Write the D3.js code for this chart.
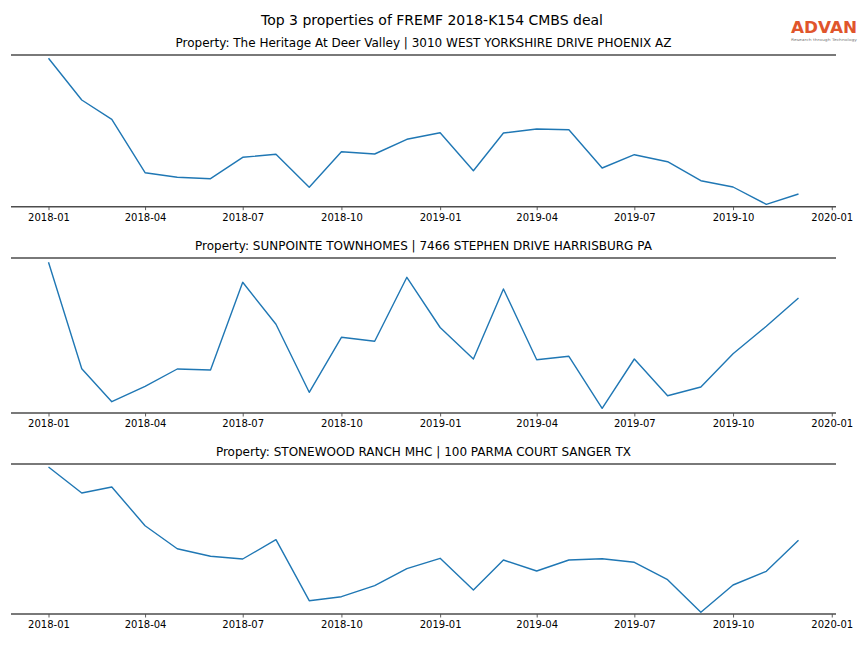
<!DOCTYPE html>
<html>
<head>
<meta charset="utf-8">
<script src="https://cdn.jsdelivr.net/npm/d3@7"></script>
<style>
  html, body { margin: 0; padding: 0; background: #fff; }
  svg { display: block; }
  text { font-family: "DejaVu Sans", sans-serif; }
</style>
</head>
<body>
<svg id="chart" width="864" height="648"></svg>
<script>
// ---------- DATA ----------
const months = ["2018-01","2018-02","2018-03","2018-04","2018-05","2018-06","2018-07","2018-08","2018-09","2018-10","2018-11","2018-12",
                "2019-01","2019-02","2019-03","2019-04","2019-05","2019-06","2019-07","2019-08","2019-09","2019-10","2019-11","2019-12"];

const titles = [
  "Property: The Heritage At Deer Valley | 3010 WEST YORKSHIRE DRIVE PHOENIX AZ",
  "Property: SUNPOINTE TOWNHOMES | 7466 STEPHEN DRIVE HARRISBURG PA",
  "Property: STONEWOOD RANCH MHC | 100 PARMA COURT SANGER TX"
];

const heritage   = [148.4,106.7,87.4,34.0,29.4,28.0,49.4,52.4,19.4,55.0,52.7,67.4,
                    74.0,36.0,73.7,77.7,77.0,38.7,52.0,45.0,26.0,19.7,2.4,12.7];
const sunpointe  = [150.7,44.3,11.3,26.7,44.0,43.0,130.7,88.7,20.7,75.7,71.7,135.7,
                    85.5,54.0,124.0,53.3,56.7,4.7,54.0,17.3,26.0,59.3,86.7,115.0];
const stonewood  = [147.0,121.0,127.0,88.3,65.3,57.7,55.0,74.3,13.3,17.3,28.3,45.3,
                    55.7,24.0,54.0,43.0,54.0,55.3,51.7,34.3,1.7,29.0,42.7,73.7];

const seriesList = [heritage, sunpointe, stonewood];
const yLimits = [[0, 151.7], [0, 155], [0, 150]];
const tickLabels = ["2018-01","2018-04","2018-07","2018-10","2019-01","2019-04","2019-07","2019-10","2020-01"];

const mainTitle = "Top 3 properties of FREMF 2018-K154 CMBS deal";

// ---------- DRAW ----------
const svg = d3.select("#chart");
const parse = d3.timeParse("%Y-%m");
const dates = months.map(parse);
const fmt = d3.timeFormat("%Y-%m");

const left = 11, right = 836;
const panelTops = [55, 258, 464];
const panelHeights = [151.7, 155, 150];

const t0 = dates[0], t1 = dates[dates.length - 1];
const span = t1 - t0;
const x = d3.scaleTime()
  .domain([new Date(+t0 - 0.05 * span), new Date(+t1 + 0.05 * span)])
  .range([left, right]);

svg.append("text")
  .attr("x", 432).attr("y", 25)
  .attr("text-anchor", "middle")
  .attr("font-size", 14)
  .attr("fill", "#000")
  .text(mainTitle);

// Logo
const logo = svg.append("g");
logo.append("text")
  .attr("x", 791).attr("y", 33)
  .attr("font-family", "Liberation Sans, Arial, sans-serif")
  .attr("font-size", 15.5)
  .attr("font-weight", "bold")
  .attr("fill", "#e0552c")
  .attr("textLength", 66)
  .attr("lengthAdjust", "spacingAndGlyphs")
  .text("ADVAN");
logo.append("text")
  .attr("x", 791).attr("y", 40.5)
  .attr("font-family", "Liberation Sans, Arial, sans-serif")
  .attr("font-size", 3.6)
  .attr("fill", "#777")
  .attr("textLength", 66)
  .attr("lengthAdjust", "spacingAndGlyphs")
  .text("Research through Technology");

seriesList.forEach((vals, i) => {
  const top = panelTops[i], h = panelHeights[i], bottom = top + h;
  const y = d3.scaleLinear().domain(yLimits[i]).range([bottom, top]);
  const g = svg.append("g");

  g.append("text")
    .attr("x", 423.5).attr("y", top - 8.5)
    .attr("text-anchor", "middle")
    .attr("font-size", 12)
    .attr("fill", "#000")
    .text(titles[i]);

  const ticks = tickLabels.map(parse);
  const axis = d3.axisBottom(x).tickValues(ticks).tickFormat(fmt).tickSize(3.5).tickPadding(3.5);
  const ax = g.append("g").attr("transform", `translate(0,${bottom})`).call(axis);
  ax.select(".domain").remove();
  ax.selectAll(".tick line").attr("stroke", "#333").attr("stroke-width", 0.8);
  ax.selectAll(".tick text").attr("font-size", 10).attr("fill", "#000")
    .attr("font-family", "DejaVu Sans, sans-serif");

  g.append("line").attr("x1", left).attr("x2", right).attr("y1", top).attr("y2", top)
    .attr("stroke", "#4d4d4d").attr("stroke-width", 1.4);
  g.append("line").attr("x1", left).attr("x2", right).attr("y1", bottom).attr("y2", bottom)
    .attr("stroke", "#4d4d4d").attr("stroke-width", 1.4);

  const line = d3.line().x((d, j) => x(dates[j])).y(d => y(d));
  g.append("path").datum(vals)
    .attr("d", line)
    .attr("fill", "none")
    .attr("stroke", "#1f77b4")
    .attr("stroke-width", 1.4)
    .attr("stroke-linejoin", "round");
});
</script>
</body>
</html>
